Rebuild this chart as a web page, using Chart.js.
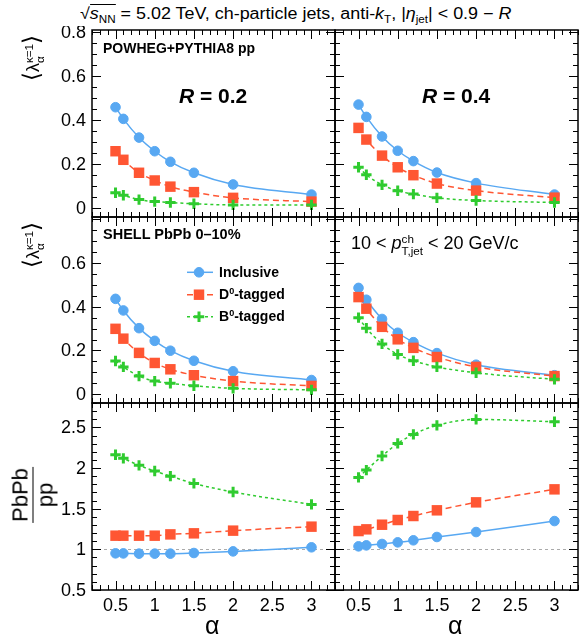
<!DOCTYPE html>
<html>
<head>
<meta charset="utf-8">
<script src="https://cdn.jsdelivr.net/npm/chart.js@4.4.1/dist/chart.umd.min.js"></script>
<style>
  body { margin: 0; background: #fff; font-family: "Liberation Sans", Arial, sans-serif; }
  #fig { position: relative; width: 588px; height: 639px; overflow: hidden; }
  #fig canvas { position: absolute; }
  .txt { position: absolute; white-space: nowrap; color: #000; line-height: 1; }
  .sub { font-size: 0.65em; vertical-align: -0.35em; line-height: 0; }
  .sup { font-size: 0.65em; vertical-align: 0.55em; line-height: 0; }
  .ss { display: inline-block; vertical-align: middle; line-height: 1; font-size: 0.65em; text-align: left; }
  .ss span { display: block; }
  .rot { transform: translate(-50%, -50%) rotate(-90deg); }
  .frac { display: inline-block; text-align: center; }
  .frac .num { display: block; border-bottom: 1.5px solid #000; padding: 0 1px 1px; }
  .frac .den { display: block; padding-top: 1px; }
</style>
</head>
<body>
<div id="fig">
  <canvas id="c00" width="313" height="195" style="left:26px;top:26px"></canvas>
  <canvas id="c01" width="251" height="195" style="left:331px;top:26px"></canvas>
  <canvas id="c10" width="313" height="194" style="left:26px;top:213px"></canvas>
  <canvas id="c11" width="251" height="194" style="left:331px;top:213px"></canvas>
  <canvas id="c20" width="313" height="227" style="left:26px;top:399px"></canvas>
  <canvas id="c21" width="251" height="227" style="left:331px;top:399px"></canvas>

  <div class="txt" style="left:80px;top:6px;font-size:16px;transform:scaleX(1.12);transform-origin:0 0">√<span style="border-top:1px solid #000"><i>s</i><span class="sub">NN</span></span> = 5.02 TeV, ch-particle jets, anti-<i>k</i><span class="sub">T</span>, |<i>η</i><span class="sub">jet</span>| &lt; 0.9 − <i>R</i></div>

  <div class="txt" style="left:103px;top:41px;font-size:14px;font-weight:bold">POWHEG+PYTHIA8 pp</div>
  <div class="txt" style="left:179px;top:85px;font-size:21px;font-weight:bold"><i>R</i> = 0.2</div>
  <div class="txt" style="left:422px;top:85px;font-size:21px;font-weight:bold"><i>R</i> = 0.4</div>
  <div class="txt" style="left:103px;top:227px;font-size:14.5px;font-weight:bold">SHELL PbPb 0–10%</div>
  <div class="txt" style="left:351px;top:233px;font-size:18px">10 &lt; <i>p</i><span class="ss"><span>ch</span><span>T,jet</span></span> &lt; 20 GeV/c</div>

  <div class="txt" style="left:219px;top:265px;font-size:14px;font-weight:bold">Inclusive</div>
  <div class="txt" style="left:219px;top:287px;font-size:14px;font-weight:bold">D<span class="sup">0</span>-tagged</div>
  <div class="txt" style="left:219px;top:309px;font-size:14px;font-weight:bold">B<span class="sup">0</span>-tagged</div>

  <div class="txt rot" style="left:33px;top:58px;font-size:18px"><span style="font-size:23px">⟨</span>λ<span class="ss"><span>κ=1</span><span>α</span></span><span style="font-size:23px">⟩</span></div>
  <div class="txt rot" style="left:33px;top:245px;font-size:18px"><span style="font-size:23px">⟨</span>λ<span class="ss"><span>κ=1</span><span>α</span></span><span style="font-size:23px">⟩</span></div>
  <div class="txt rot" style="left:33px;top:495px;font-size:22px"><span class="frac"><span class="num">PbPb</span><span class="den">pp</span></span></div>

  <div class="txt" style="left:205px;top:613px;font-size:25px">α</div>
  <div class="txt" style="left:448px;top:613px;font-size:25px">α</div>
</div>

<script>
// jet angularity values vs alpha
const alphaValues = [0.5, 0.6, 0.8, 1, 1.2, 1.5, 2, 3];

// POWHEG+PYTHIA8 pp
const ppR02Inclusive = [0.459, 0.406, 0.321, 0.259, 0.211, 0.161, 0.108, 0.062];
const ppR02D0 = [0.259, 0.220, 0.161, 0.126, 0.098, 0.073, 0.047, 0.030];
const ppR02B0 = [0.070, 0.059, 0.039, 0.030, 0.026, 0.020, 0.015, 0.015];
const ppR04Inclusive = [0.471, 0.415, 0.326, 0.261, 0.214, 0.162, 0.114, 0.062];
const ppR04D0 = [0.365, 0.312, 0.239, 0.186, 0.150, 0.112, 0.080, 0.048];
const ppR04B0 = [0.186, 0.152, 0.106, 0.079, 0.064, 0.047, 0.035, 0.026];

// SHELL PbPb 0-10%
const pbR02Inclusive = [0.436, 0.383, 0.302, 0.244, 0.199, 0.153, 0.105, 0.065];
const pbR02D0 = [0.299, 0.254, 0.189, 0.143, 0.114, 0.087, 0.060, 0.038];
const pbR02B0 = [0.152, 0.125, 0.083, 0.060, 0.050, 0.039, 0.027, 0.020];
const pbR04Inclusive = [0.486, 0.432, 0.344, 0.281, 0.238, 0.188, 0.135, 0.087];
const pbR04D0 = [0.444, 0.391, 0.308, 0.251, 0.212, 0.170, 0.125, 0.083];
const pbR04B0 = [0.350, 0.302, 0.230, 0.182, 0.153, 0.125, 0.098, 0.068];

// PbPb / pp
const ratioR02Inclusive = [0.951, 0.950, 0.947, 0.947, 0.947, 0.955, 0.975, 1.025];
const ratioR02D0 = [1.168, 1.168, 1.168, 1.168, 1.184, 1.197, 1.230, 1.279];
const ratioR02B0 = [2.164, 2.119, 2.033, 1.963, 1.900, 1.811, 1.705, 1.553];
const ratioR04Inclusive = [1.037, 1.049, 1.066, 1.086, 1.111, 1.152, 1.213, 1.348];
const ratioR04D0 = [1.225, 1.246, 1.303, 1.361, 1.410, 1.480, 1.578, 1.738];
const ratioR04B0 = [1.885, 1.975, 2.148, 2.303, 2.414, 2.525, 2.598, 2.570];

// tick labels
const alphaTicks = [0.5, 1, 1.5, 2, 2.5, 3];
const lambdaTicksTop = [0, 0.2, 0.4, 0.6, 0.8];
const lambdaTicksMid = [0, 0.2, 0.4, 0.6];
const ratioTicks = [0.5, 1, 1.5, 2, 2.5];
const ratioRef = 1;

const styles = [
  { label: "Inclusive", color: "#58a8f2", pointStyle: "circle", radius: 4.8, pointBorder: 1, dash: [], order: 3 },
  { label: "D0-tagged", color: "#ff5633", pointStyle: "rect", radius: 7.4, pointBorder: 0, dash: [6, 4], order: 2 },
  { label: "B0-tagged", color: "#2fcb2f", pointStyle: "cross", radius: 5.2, pointBorder: 3, dash: [3, 3], order: 1 },
];

const tickFont = "18px 'Liberation Sans', Arial, sans-serif";

// ROOT-like frame: ticks on all four sides, labels drawn from the scales
const frameTicks = {
  id: "frameTicks",
  beforeDatasetsDraw(chart, args, o) {
    if (o.ref === undefined) return;
    const { ctx, chartArea: a, scales: { y } } = chart;
    const py = Math.round(y.getPixelForValue(o.ref)) + 0.5;
    ctx.save();
    ctx.strokeStyle = "#aaa";
    ctx.lineWidth = 1;
    ctx.setLineDash([3, 3]);
    ctx.beginPath();
    ctx.moveTo(a.left, py);
    ctx.lineTo(a.right, py);
    ctx.stroke();
    ctx.restore();
  },
  afterDatasetsDraw(chart, args, o) {
    const { ctx, chartArea: a, scales: { x, y } } = chart;
    ctx.save();
    ctx.strokeStyle = "#000";
    ctx.lineWidth = 1;
    ctx.beginPath();
    for (let i = Math.ceil(x.min * 10 - 1e-6); i <= x.max * 10 + 1e-6; i++) {
      const px = Math.round(x.getPixelForValue(i / 10)) + 0.5;
      const len = i % 5 === 0 ? 9 : 5;
      ctx.moveTo(px, a.bottom); ctx.lineTo(px, a.bottom - len);
      ctx.moveTo(px, a.top); ctx.lineTo(px, a.top + len);
    }
    for (let i = Math.ceil(y.min / o.minor - 1e-6); i * o.minor <= y.max + 1e-9; i++) {
      const v = i * o.minor;
      const py = Math.round(y.getPixelForValue(v)) + 0.5;
      const r = v / o.major;
      const len = Math.abs(r - Math.round(r)) < 1e-6 ? 9 : 5;
      ctx.moveTo(a.left, py); ctx.lineTo(a.left + len, py);
      ctx.moveTo(a.right, py); ctx.lineTo(a.right - len, py);
    }
    ctx.stroke();
    ctx.lineWidth = 1.5;
    ctx.strokeRect(a.left, a.top, a.right - a.left, a.bottom - a.top);

    ctx.fillStyle = "#000";
    ctx.font = tickFont;
    if (o.yLabels.length) {
      ctx.textAlign = "right";
      ctx.textBaseline = "middle";
      o.yLabels.forEach((v) => ctx.fillText(String(v), a.left - 6, y.getPixelForValue(v) + 1));
    }
    if (o.xLabels) {
      ctx.textAlign = "center";
      ctx.textBaseline = "top";
      alphaTicks.forEach((v) => ctx.fillText(String(v), x.getPixelForValue(v), a.bottom + 7));
    }
    ctx.restore();
  },
};

// legend symbols (text is in the page)
const legendMarks = {
  id: "legendMarks",
  afterDatasetsDraw(chart, args, o) {
    if (!o.show) return;
    const { ctx, chartArea: a } = chart;
    const rows = [55.3, 77.7, 99.7];
    chart.data.datasets.forEach((ds, i) => {
      const yy = a.top + rows[i];
      ctx.save();
      ctx.strokeStyle = ds.borderColor;
      ctx.lineWidth = 1.5;
      ctx.setLineDash(ds.borderDash);
      ctx.beginPath();
      ctx.moveTo(a.left + 95, yy);
      ctx.lineTo(a.left + 121, yy);
      ctx.stroke();
      ctx.setLineDash([]);
      ctx.fillStyle = ds.pointBackgroundColor;
      ctx.strokeStyle = ds.pointBorderColor;
      ctx.lineWidth = ds.pointBorderWidth;
      Chart.helpers.drawPoint(ctx, { pointStyle: ds.pointStyle, radius: ds.pointRadius, borderWidth: ds.pointBorderWidth, rotation: 0 }, a.left + 107, yy);
      ctx.restore();
    });
  },
};

function makePanel(id, series, yMin, yMax, yLabels, minor, major, opts) {
  const leftCol = yLabels.length > 0;
  return new Chart(document.getElementById(id), {
    type: "line",
    data: {
      datasets: series.map((vals, i) => ({
        label: styles[i].label,
        data: alphaValues.map((a, k) => ({ x: a, y: vals[k] })),
        borderColor: styles[i].color,
        backgroundColor: styles[i].color,
        borderWidth: 1.5,
        borderDash: styles[i].dash,
        cubicInterpolationMode: "monotone",
        pointStyle: styles[i].pointStyle,
        pointRadius: styles[i].radius,
        pointBackgroundColor: styles[i].color,
        pointBorderColor: styles[i].color,
        pointBorderWidth: styles[i].pointBorder,
        order: styles[i].order,
        clip: false,
      })),
    },
    options: {
      responsive: false,
      maintainAspectRatio: false,
      animation: false,
      events: [],
      layout: {
        autoPadding: false,
        padding: { left: leftCol ? 66 : 4, right: 4, top: 4, bottom: opts.showX ? 36 : 4 },
      },
      plugins: {
        legend: { display: false },
        tooltip: { enabled: false },
        frameTicks: { minor: minor, major: major, ref: opts.ref, yLabels: yLabels, xLabels: !!opts.showX },
        legendMarks: { show: !!opts.legend },
      },
      scales: {
        x: { type: "linear", min: 0.2, max: 3.3, display: false },
        y: { type: "linear", min: yMin, max: yMax, display: false },
      },
    },
    plugins: [frameTicks, legendMarks],
  });
}

makePanel("c00", [ppR02Inclusive, ppR02D0, ppR02B0], -0.04, 0.81, lambdaTicksTop, 0.05, 0.2, {});
makePanel("c01", [ppR04Inclusive, ppR04D0, ppR04B0], -0.04, 0.81, [], 0.05, 0.2, {});
makePanel("c10", [pbR02Inclusive, pbR02D0, pbR02B0], -0.04, 0.81, lambdaTicksMid, 0.05, 0.2, { legend: true });
makePanel("c11", [pbR04Inclusive, pbR04D0, pbR04B0], -0.04, 0.81, [], 0.05, 0.2, {});
makePanel("c20", [ratioR02Inclusive, ratioR02D0, ratioR02B0], 0.5, 2.8, ratioTicks, 0.1, 0.5, { showX: true, ref: ratioRef });
makePanel("c21", [ratioR04Inclusive, ratioR04D0, ratioR04B0], 0.5, 2.8, [], 0.1, 0.5, { showX: true, ref: ratioRef });
</script>
</body>
</html>
